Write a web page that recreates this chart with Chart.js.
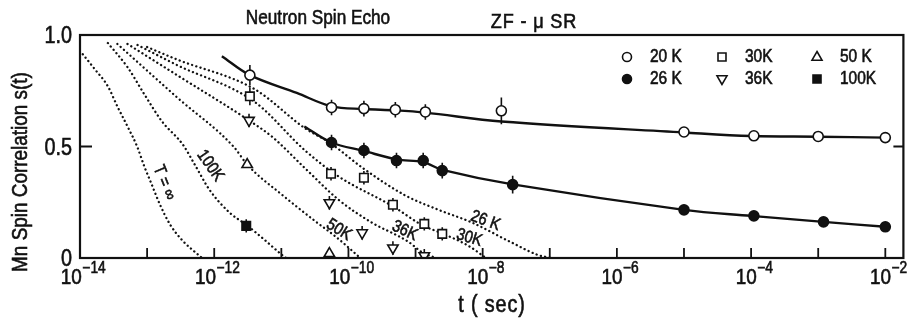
<!DOCTYPE html>
<html lang="en">
<head>
  <meta charset="UTF-8">
  <title>Mn Spin Correlation s(t)</title>
  <style>
    html, body { margin: 0; padding: 0; background: #fff; }
    canvas { display: block; }
  </style>
</head>
<body>
  <canvas id="spinChart" width="911" height="320"></canvas>

  <script src="https://cdn.jsdelivr.net/npm/chart.js"></script>
  <script>
    // measured points: time (sec), s(t), error bar half height
    const t20 = [3.4e-12, 5.6e-11, 1.7e-10, 5e-10, 1.4e-9, 1.9e-8, 1e-5, 1.1e-4, 1e-3, 1e-2];
    const s20 = [0.82, 0.675, 0.67, 0.665, 0.655, 0.66, 0.565, 0.548, 0.545, 0.54];
    const e20 = [0.045, 0.035, 0.035, 0.035, 0.035, 0.06, 0, 0, 0, 0];

    const t26 = [5.6e-11, 1.7e-10, 5.2e-10, 1.3e-9, 2.5e-9, 2.8e-8, 1e-5, 1.1e-4, 1.2e-3, 1e-2];
    const s26 = [0.518, 0.482, 0.437, 0.437, 0.392, 0.329, 0.216, 0.189, 0.162, 0.14];
    const e26 = [0.035, 0.035, 0.035, 0.035, 0.035, 0.04, 0, 0, 0, 0];

    const t30 = [3.4e-12, 5.5e-11, 1.7e-10, 4.6e-10, 1.35e-9, 2.5e-9];
    const s30 = [0.725, 0.378, 0.36, 0.239, 0.153, 0.108];
    const e30 = [0.04, 0.03, 0.03, 0.03, 0.03, 0.03];

    const t36 = [3.3e-12, 5.2e-11, 1.6e-10, 4.6e-10, 1.35e-9];
    const s36 = [0.617, 0.248, 0.113, 0.045, 0.01];
    const e36 = [0.03, 0.03, 0.03, 0.03, 0.03];

    const t50 = [3.1e-12, 5.2e-11];
    const s50 = [0.419, 0.02];

    const t100 = [3.0e-12];
    const s100 = [0.144];
    const e100 = [0.03];

    // solid lines through the 20 K and 26 K data
    const fit20T = [1.3e-12, 3.4e-12, 1.7e-11, 5.6e-11, 1.7e-10, 5e-10, 1.4e-9, 1.9e-8, 1e-5, 1e-4, 1e-3, 1e-2];
    const fit20S = [0.905, 0.82, 0.74, 0.68, 0.668, 0.662, 0.652, 0.612, 0.563, 0.547, 0.544, 0.54];
    const fit26T = [2.2e-11, 5.6e-11, 1.7e-10, 5.2e-10, 1.3e-9, 2.5e-9, 2.8e-8, 1e-5, 1e-4, 1.2e-3, 1e-2];
    const fit26S = [0.59, 0.518, 0.48, 0.442, 0.43, 0.395, 0.33, 0.216, 0.189, 0.162, 0.14];

    // dotted model curves
    const dotInfT = [1.1e-14, 1.66e-14, 2.6e-14, 3.6e-14, 5.1e-14, 7.1e-14, 9.1e-14, 1.17e-13, 1.55e-13, 2.2e-13, 3.4e-13, 5.6e-13, 6.6e-13];
    const dotInfS = [0.914, 0.847, 0.77, 0.68, 0.59, 0.50, 0.41, 0.33, 0.24, 0.15, 0.077, 0.018, 0];
    const dot100T = [2.6e-14, 5.1e-14, 9.1e-14, 1.66e-13, 3.4e-13, 5.1e-13, 8.5e-13, 1.7e-12, 3.0e-12, 5.2e-12, 1.02e-11, 1.17e-11];
    const dot100S = [0.964, 0.856, 0.734, 0.613, 0.509, 0.42, 0.306, 0.203, 0.149, 0.09, 0.014, 0];
    const dot50T = [3.6e-14, 2.8e-13, 2.0e-12, 3.1e-12, 1.02e-11, 3.3e-11, 6.5e-11, 1.02e-10, 1.5e-10];
    const dot50S = [0.96, 0.72, 0.495, 0.419, 0.284, 0.162, 0.095, 0.045, 0];
    const dot36T = [5.1e-14, 2.8e-13, 3.3e-12, 7.2e-12, 2.3e-11, 7.2e-11, 2.2e-10, 7.9e-10, 1.23e-9, 2.0e-9];
    const dot36S = [0.96, 0.82, 0.617, 0.545, 0.40, 0.26, 0.16, 0.072, 0.027, 0];
    const dot30T = [7.2e-14, 2.8e-13, 4.0e-12, 2.3e-11, 7.2e-11, 4.7e-10, 1.23e-9, 2.8e-9, 6.2e-9, 1.12e-8];
    const dot30S = [0.955, 0.865, 0.70, 0.48, 0.365, 0.23, 0.149, 0.104, 0.054, 0];
    const dot26T = [1.0e-13, 2.8e-13, 4.0e-12, 2.3e-11, 5.1e-11, 1.7e-10, 7.1e-10, 2.2e-9, 6.8e-9, 2.6e-8, 6.6e-8, 1.05e-7];
    const dot26S = [0.946, 0.89, 0.757, 0.58, 0.52, 0.40, 0.28, 0.216, 0.16, 0.072, 0.014, 0];

    // curve names written along the dotted lines: [text, t, s, angle]
    const curveLabels = [
      ['T = \u221E', 1.8e-13, 0.338, 68],
      ['100K', 8.7e-13, 0.414, 55],
      ['50K', 7.2e-11, 0.126, 32],
      ['36K', 6.9e-10, 0.122, 25],
      ['30K', 6.3e-9, 0.09, 17],
      ['26 K', 1.1e-8, 0.167, 20]
    ];

    const tickDecades = [-14, -13, -12, -11, -10, -9, -8, -7, -6, -5, -4, -3, -2];
    const yTicks = [0, 0.5, 1.0];
    const yTickText = ['0', '0.5', '1.0'];

    const legendItems = [
      ['20 K', 'circle', '#fff', 0], ['30K', 'rect', '#fff', 0], ['50 K', 'triangle', '#fff', 0],
      ['26 K', 'circle', '#111', 0], ['36K', 'triangle', '#fff', 180], ['100K', 'rect', '#111', 0]
    ];

    const INK = '#111';
    const SQ = 0.86; // the original lettering is narrow, squeeze it a bit
    const font = size => size + 'px "Liberation Sans", Arial, sans-serif';
    const pts = (t, s) => t.map((v, i) => ({ x: v, y: s[i] }));

    function drawText(ctx, str, x, y, size, align, angle) {
      ctx.save();
      ctx.translate(x, y);
      if (angle) ctx.rotate(angle * Math.PI / 180);
      ctx.scale(SQ, 1);
      ctx.font = font(size);
      ctx.fillStyle = INK;
      ctx.strokeStyle = INK;
      ctx.lineWidth = 0.6;
      ctx.textAlign = align || 'center';
      ctx.textBaseline = 'middle';
      ctx.fillText(str, 0, 0);
      ctx.strokeText(str, 0, 0);
      ctx.restore();
    }

    function drawMarker(ctx, style, fill, rot, x, y) {
      ctx.save();
      ctx.translate(x, y);
      ctx.rotate(rot * Math.PI / 180);
      ctx.beginPath();
      if (style === 'circle') ctx.arc(0, 0, 4.5, 0, Math.PI * 2);
      else if (style === 'rect') ctx.rect(-4, -4, 8, 8);
      else { ctx.moveTo(0, -5.5); ctx.lineTo(5, 3.2); ctx.lineTo(-5, 3.2); ctx.closePath(); }
      ctx.fillStyle = fill;
      ctx.fill();
      ctx.lineWidth = 1.6;
      ctx.strokeStyle = INK;
      ctx.stroke();
      ctx.restore();
    }

    const errorSets = [[t20, s20, e20], [t26, s26, e26], [t30, s30, e30], [t36, s36, e36], [t100, s100, e100]];

    const decorations = {
      id: 'decorations',
      beforeDatasetsDraw(chart) {
        const { ctx, chartArea: a, scales: { x, y } } = chart;
        ctx.save();
        ctx.beginPath();
        ctx.rect(a.left, a.top, a.right - a.left, a.bottom - a.top);
        ctx.clip();
        ctx.strokeStyle = INK;
        ctx.lineWidth = 1.6;
        errorSets.forEach(([t, s, e]) => {
          t.forEach((v, i) => {
            if (!e[i]) return;
            const px = x.getPixelForValue(v);
            ctx.beginPath();
            ctx.moveTo(px, y.getPixelForValue(s[i] - e[i]));
            ctx.lineTo(px, y.getPixelForValue(s[i] + e[i]));
            ctx.stroke();
          });
        });
        ctx.restore();
      },
      afterDraw(chart) {
        const { ctx, chartArea: a, scales: { x, y } } = chart;
        ctx.save();
        ctx.strokeStyle = INK;
        ctx.lineWidth = 2.2;
        ctx.strokeRect(a.left, a.top, a.right - a.left, a.bottom - a.top);

        // inward ticks + decade labels
        ctx.lineWidth = 1.8;
        tickDecades.forEach(d => {
          const px = x.getPixelForValue(Math.pow(10, d));
          ctx.beginPath();
          ctx.moveTo(px, a.bottom);
          ctx.lineTo(px, a.bottom - 10);
          ctx.stroke();
          if (d % 2 !== 0) return;
          ctx.font = font(22);
          const wb = ctx.measureText('10').width * SQ;
          const exp = '\u2212' + (-d);
          ctx.font = font(16);
          const we = ctx.measureText(exp).width * SQ;
          const x0 = px + 3 - (wb + we) / 2;
          drawText(ctx, '10', x0, a.bottom + 20, 22, 'left');
          drawText(ctx, exp, x0 + wb + 0.5, a.bottom + 11, 16, 'left');
          ctx.lineWidth = 1.8;
        });

        yTicks.forEach((v, i) => {
          const py = y.getPixelForValue(v);
          if (v > 0 && v < 1) {
            ctx.lineWidth = 1.8;
            ctx.beginPath();
            ctx.moveTo(a.left, py); ctx.lineTo(a.left + 12, py);
            ctx.moveTo(a.right, py); ctx.lineTo(a.right - 10, py);
            ctx.stroke();
          }
          drawText(ctx, yTickText[i], a.left - 8, py + 2, 23, 'right');
        });

        // axis titles and headings
        drawText(ctx, 'Mn Spin Correlation s(t)', 21, 172, 22, 'center', -90);
        ctx.letterSpacing = '1px';
        drawText(ctx, 't ( sec)', 492, 306, 23, 'center');
        drawText(ctx, 'ZF - \u03BC SR', 534, 22, 21, 'center');
        ctx.letterSpacing = '0px';
        drawText(ctx, 'Neutron Spin Echo', 318, 18, 20, 'center');

        // names along the dotted curves
        curveLabels.forEach(([str, t, s, ang]) => {
          drawText(ctx, str, x.getPixelForValue(t), y.getPixelForValue(s), 17, 'center', ang);
        });

        // legend block, 3 columns x 2 rows
        legendItems.forEach(([str, style, fill, rot], i) => {
          const col = i % 3, row = Math.floor(i / 3);
          const mx = 627 + col * 95, my = 57 + row * 22;
          drawMarker(ctx, style, fill, rot, mx, my);
          drawText(ctx, str, mx + 23, my, 18, 'left');
        });
        ctx.restore();
      }
    };

    const marker = (label, t, s, style, fill, radius, rotation) => ({
      label, data: pts(t, s), showLine: false, order: 0,
      pointStyle: style, pointRadius: radius, pointRotation: rotation || 0,
      pointBackgroundColor: fill, pointBorderColor: INK, pointBorderWidth: 1.6
    });
    const solid = (t, s) => ({
      data: pts(t, s), showLine: true, order: 1, borderColor: INK, borderWidth: 2.4,
      pointRadius: 0, tension: 0.35
    });
    const dotted = (t, s) => ({
      data: pts(t, s), showLine: true, order: 2, borderColor: INK, borderWidth: 2.3,
      borderDash: [0.1, 4.3], borderCapStyle: 'round', pointRadius: 0,
      cubicInterpolationMode: 'monotone'
    });

    new Chart(document.getElementById('spinChart'), {
      type: 'scatter',
      data: {
        datasets: [
          marker('20 K', t20, s20, 'circle', '#fff', 5),
          marker('26 K', t26, s26, 'circle', INK, 5),
          marker('30K', t30, s30, 'rect', '#fff', 6),
          marker('36K', t36, s36, 'triangle', '#fff', 6, 180),
          marker('50 K', t50, s50, 'triangle', '#fff', 6),
          marker('100K', t100, s100, 'rect', INK, 6),
          solid(fit20T, fit20S),
          solid(fit26T, fit26S),
          dotted(dotInfT, dotInfS),
          dotted(dot100T, dot100S),
          dotted(dot50T, dot50S),
          dotted(dot36T, dot36S),
          dotted(dot30T, dot30S),
          dotted(dot26T, dot26S)
        ]
      },
      options: {
        responsive: false,
        animation: false,
        devicePixelRatio: 1,
        layout: { padding: { top: 35, right: 4, left: 0, bottom: 0 } },
        plugins: { legend: { display: false }, tooltip: { enabled: false } },
        scales: {
          x: {
            type: 'logarithmic', min: 1e-14, max: 1.86e-2,
            ticks: { display: false }, grid: { display: false }, border: { display: false },
            afterFit: s => { s.height = 62; }
          },
          y: {
            type: 'linear', min: 0, max: 1.0,
            ticks: { display: false }, grid: { display: false }, border: { display: false },
            afterFit: s => { s.width = 80; }
          }
        }
      },
      plugins: [decorations]
    });
  </script>
</body>
</html>
